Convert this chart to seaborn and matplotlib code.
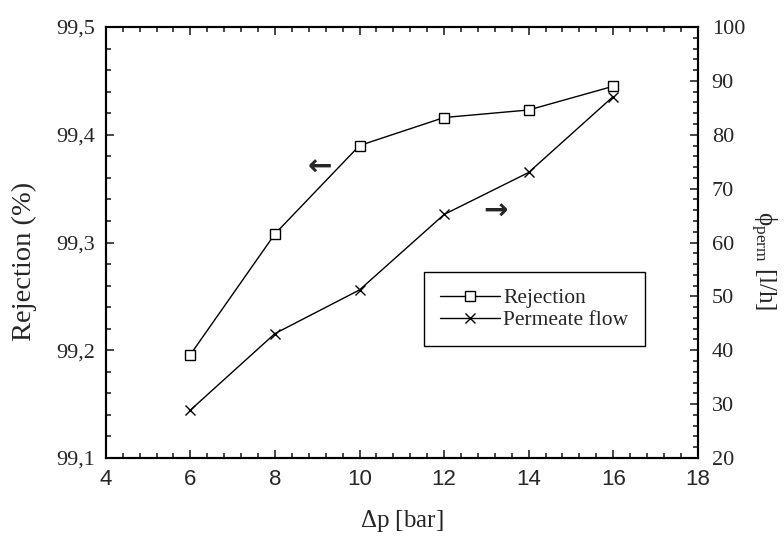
import numpy as np
import pandas as pd
import seaborn as sns
import matplotlib.pyplot as plt
from matplotlib.ticker import MultipleLocator, FuncFormatter

# values
pressure = [6, 8, 10, 12, 14, 16]
rejection = [99.196, 99.308, 99.390, 99.416, 99.423, 99.445]
permeate_flow = [28.9, 43.1, 51.2, 65.2, 73.0, 87.1]

sns.set_style("ticks")
plt.rcParams['font.family'] = ['Liberation Serif', 'DejaVu Serif']
plt.rcParams['mathtext.fontset'] = 'custom'
plt.rcParams['mathtext.rm'] = 'Liberation Serif'
plt.rcParams['mathtext.it'] = 'Liberation Serif:italic'

df = pd.DataFrame({"dp": pressure, "rej": rejection, "flow": permeate_flow})

fig = plt.figure(figsize=(7.84, 5.36), dpi=100)
ax = fig.add_axes([0.135, 0.1455, 0.755, 0.8041])
ax2 = ax.twinx()

sns.lineplot(data=df, x="dp", y="rej", ax=ax, color="black", lw=1,
             marker="s", markersize=6.5, markerfacecolor="white",
             markeredgecolor="black", markeredgewidth=1, label="Rejection")
sns.lineplot(data=df, x="dp", y="flow", ax=ax2, color="black", lw=1,
             marker="x", markersize=7.5, markeredgecolor="black",
             markeredgewidth=1, label="Permeate flow")

ax.set_xlim(4, 18)
ax.set_ylim(99.1, 99.5)
ax2.set_ylim(20, 100)

ax.xaxis.set_major_locator(MultipleLocator(2))
ax.xaxis.set_minor_locator(MultipleLocator(0.4))
ax.yaxis.set_major_locator(MultipleLocator(0.1))
ax.yaxis.set_minor_locator(MultipleLocator(0.02))
ax2.yaxis.set_major_locator(MultipleLocator(10))
ax2.yaxis.set_minor_locator(MultipleLocator(2))
ax.yaxis.set_major_formatter(FuncFormatter(lambda v, p: f"{v:.1f}".replace(".", ",")))

ax.tick_params(axis="x", which="both", direction="in", top=True, bottom=True, pad=8)
ax.tick_params(axis="y", which="both", direction="in", left=True, right=False, pad=8)
ax.tick_params(which="major", length=6, width=1.2)
ax.tick_params(which="minor", length=3.5, width=1.2)
ax2.tick_params(axis="y", which="both", direction="in", pad=10)
ax2.tick_params(which="major", length=6, width=1.2, labelsize=16)
ax2.tick_params(which="minor", length=3.5, width=1.2)

for t in ax.get_xticklabels():
    t.set_fontfamily("Liberation Sans")
    t.set_fontsize(16)
for t in ax.get_yticklabels():
    t.set_fontsize(16)

for a in (ax, ax2):
    for s in a.spines.values():
        s.set_linewidth(1.5)
        s.set_color("black")

ax.set_xlabel(r"$\Delta$p [bar]", fontsize=18)
ax.xaxis.set_label_coords(0.5, -0.115)
ax.set_ylabel("Rejection (%)", fontsize=20.5)
ax.yaxis.set_label_coords(-0.117, 0.457)
ax2.set_ylabel(r"$\mathrm{\phi_{perm}}$ [l/h]", fontsize=18, rotation=270, va="bottom")
ax2.yaxis.set_label_coords(1.085, 0.457)

# direction arrows
ax.text(0.361, 0.673, "\u2190", transform=ax.transAxes, fontsize=21,
        ha="center", va="center", family="DejaVu Sans", fontweight="bold")
ax.text(0.659, 0.571, "\u2192", transform=ax.transAxes, fontsize=21,
        ha="center", va="center", family="DejaVu Sans", fontweight="bold")

h1, l1 = ax.get_legend_handles_labels()
h2, l2 = ax2.get_legend_handles_labels()
if ax.get_legend():
    ax.get_legend().remove()
leg = ax2.legend(h1 + h2, l1 + l2, loc="upper left", bbox_to_anchor=(0.537, 0.432),
                 borderaxespad=0, fontsize=15.5, frameon=True, fancybox=False,
                 framealpha=1, edgecolor="black", handlelength=2.8,
                 handletextpad=0.15, borderpad=0.75, labelspacing=0.1)
leg.get_frame().set_linewidth(1)

fig.savefig("out.png", dpi=100)
